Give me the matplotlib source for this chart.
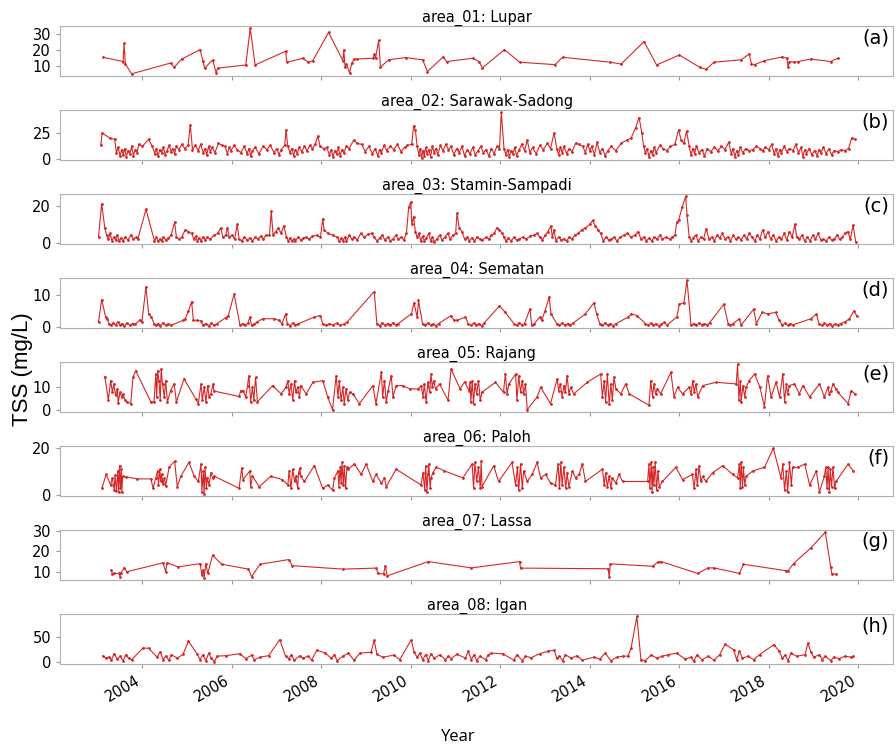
import matplotlib
matplotlib.use('Agg')
import matplotlib.pyplot as plt
from matplotlib import font_manager

# Pick a narrow font for the titles/ticks if one is installed
installed = {f.name for f in font_manager.fontManager.ttflist}
narrow = 'DejaVu Sans'
for name in ['DejaVu Sans Condensed', 'Liberation Sans Narrow']:
    if name in installed:
        narrow = name
        break
plt.rcParams['font.family'] = [narrow, 'DejaVu Sans']

# TSS (mg/L) per site, as (decimal year, value)
lupar = [(2003.12, 15.6), (2003.57, 12.9), (2003.59, 24.2), (2003.62, 11.4), (2003.76, 5.3), (2004.63, 12.0),
         (2004.71, 9.4), (2004.88, 14.5), (2005.29, 20.3), (2005.35, 13.5), (2005.39, 8.8), (2005.57, 13.9),
         (2005.65, 5.9), (2005.68, 8.8), (2006.31, 10.8), (2006.41, 33.5), (2006.52, 10.8), (2007.20, 19.3),
         (2007.23, 12.5), (2007.58, 14.9), (2007.71, 12.5), (2007.81, 13.5), (2008.16, 31.0), (2008.48, 13.5),
         (2008.50, 20.3), (2008.53, 9.4), (2008.56, 11.4), (2008.63, 5.9), (2008.68, 12.0), (2008.74, 14.5),
         (2008.80, 14.5), (2009.16, 15.0), (2009.18, 17.6), (2009.21, 15.0), (2009.28, 26.0), (2009.32, 9.4),
         (2009.50, 14.0), (2009.88, 15.4), (2010.26, 14.0), (2010.37, 6.7), (2010.72, 15.8), (2010.80, 12.9),
         (2011.39, 15.0), (2011.52, 12.9), (2011.60, 9.0), (2012.09, 20.3), (2012.43, 12.5), (2013.22, 11.0),
         (2013.39, 15.6), (2014.45, 12.5), (2014.70, 11.4), (2015.21, 25.3), (2015.49, 10.8), (2016.00, 17.0),
         (2016.45, 9.4), (2016.60, 8.1), (2016.77, 12.5), (2017.38, 14.0), (2017.56, 17.6), (2017.61, 11.4),
         (2017.68, 11.0), (2017.90, 13.5), (2018.30, 15.8), (2018.40, 15.0), (2018.43, 9.4), (2018.46, 12.9),
         (2018.55, 12.5), (2018.65, 12.9), (2018.94, 14.5), (2019.38, 12.9), (2019.54, 15.0)]

sarawak_sadong = [(2003.07, 13), (2003.10, 25), (2003.28, 20), (2003.38, 19), (2003.42, 6), (2003.46, 11),
                  (2003.50, 3), (2003.54, 9), (2003.57, 4), (2003.61, 10), (2003.64, 2), (2003.68, 8),
                  (2003.72, 5), (2003.76, 12), (2003.80, 3), (2003.84, 9), (2003.88, 6), (2003.92, 14),
                  (2004.00, 12), (2004.14, 19), (2004.22, 12), (2004.28, 5), (2004.31, 10), (2004.35, 3),
                  (2004.39, 9), (2004.43, 6), (2004.47, 11), (2004.51, 4), (2004.55, 8), (2004.60, 13),
                  (2004.64, 7), (2004.68, 10), (2004.72, 5), (2004.76, 12), (2004.82, 9), (2004.88, 14),
                  (2004.95, 10), (2005.02, 13), (2005.07, 33), (2005.12, 9), (2005.18, 13), (2005.25, 8),
                  (2005.30, 14), (2005.36, 6), (2005.40, 10), (2005.44, 4), (2005.48, 12), (2005.52, 7),
                  (2005.56, 11), (2005.62, 6), (2005.70, 15), (2005.78, 13), (2005.85, 12), (2005.90, 5),
                  (2005.94, 11), (2005.98, 8), (2006.05, 13), (2006.12, 9), (2006.20, 6), (2006.28, 12),
                  (2006.34, 5), (2006.38, 10), (2006.42, 3), (2006.46, 8), (2006.52, 11), (2006.60, 5),
                  (2006.70, 12), (2006.78, 9), (2006.86, 13), (2006.94, 6), (2007.00, 10), (2007.05, 4),
                  (2007.10, 9), (2007.18, 13), (2007.21, 28), (2007.25, 12), (2007.30, 6), (2007.34, 10),
                  (2007.38, 3), (2007.42, 9), (2007.46, 5), (2007.50, 11), (2007.56, 7), (2007.62, 12),
                  (2007.68, 8), (2007.74, 13), (2007.80, 10), (2007.86, 14), (2007.92, 22), (2007.97, 12),
                  (2008.05, 10), (2008.12, 11), (2008.18, 4), (2008.22, 9), (2008.26, 2), (2008.30, 8),
                  (2008.34, 5), (2008.38, 11), (2008.42, 3), (2008.46, 9), (2008.50, 6), (2008.56, 12),
                  (2008.62, 10), (2008.72, 18), (2008.80, 15), (2008.90, 14), (2008.98, 7), (2009.06, 12),
                  (2009.14, 5), (2009.20, 10), (2009.26, 3), (2009.30, 9), (2009.34, 6), (2009.40, 13),
                  (2009.46, 8), (2009.54, 12), (2009.62, 9), (2009.70, 14), (2009.78, 7), (2009.86, 11),
                  (2009.92, 13), (2010.02, 14), (2010.06, 32), (2010.10, 28), (2010.14, 12), (2010.18, 4),
                  (2010.21, 10), (2010.24, 1), (2010.27, 8), (2010.30, 3), (2010.33, 11), (2010.36, 5),
                  (2010.40, 9), (2010.44, 2), (2010.48, 12), (2010.52, 6), (2010.56, 10), (2010.60, 4),
                  (2010.66, 13), (2010.72, 8), (2010.78, 14), (2010.84, 9), (2010.90, 12), (2010.96, 4),
                  (2011.02, 10), (2011.08, 6), (2011.14, 12), (2011.20, 3), (2011.26, 9), (2011.32, 5),
                  (2011.38, 11), (2011.44, 4), (2011.50, 8), (2011.56, 12), (2011.62, 6), (2011.68, 9),
                  (2011.74, 3), (2011.80, 10), (2011.86, 5), (2011.92, 12), (2011.98, 10), (2012.02, 45),
                  (2012.08, 10), (2012.12, 4), (2012.16, 9), (2012.20, 2), (2012.24, 8), (2012.28, 5),
                  (2012.32, 11), (2012.36, 3), (2012.42, 9), (2012.48, 14), (2012.54, 8), (2012.60, 18),
                  (2012.66, 6), (2012.72, 11), (2012.80, 5), (2012.88, 13), (2012.96, 9), (2013.05, 15),
                  (2013.12, 10), (2013.20, 25), (2013.26, 10), (2013.30, 4), (2013.34, 11), (2013.38, 6),
                  (2013.42, 12), (2013.48, 5), (2013.54, 10), (2013.60, 7), (2013.68, 15), (2013.76, 14),
                  (2013.84, 12), (2013.90, 6), (2013.95, 14), (2014.00, 8), (2014.04, 12), (2014.10, 4),
                  (2014.16, 16), (2014.22, 6), (2014.28, 10), (2014.34, 3), (2014.40, 8), (2014.48, 12),
                  (2014.58, 8), (2014.70, 15), (2014.82, 18), (2014.92, 20), (2015.02, 30), (2015.10, 40),
                  (2015.16, 25), (2015.20, 12), (2015.24, 6), (2015.28, 10), (2015.32, 2), (2015.36, 8),
                  (2015.40, 4), (2015.44, 11), (2015.48, 6), (2015.56, 13), (2015.64, 10), (2015.72, 8),
                  (2015.80, 12), (2015.90, 14), (2015.98, 28), (2016.04, 18), (2016.10, 15), (2016.16, 27),
                  (2016.22, 12), (2016.26, 4), (2016.30, 10), (2016.34, 5), (2016.38, 12), (2016.44, 6),
                  (2016.50, 9), (2016.56, 3), (2016.62, 10), (2016.70, 7), (2016.78, 11), (2016.86, 8),
                  (2016.94, 12), (2017.02, 9), (2017.10, 16), (2017.16, 5), (2017.20, 10), (2017.24, 2),
                  (2017.28, 8), (2017.32, 4), (2017.36, 11), (2017.42, 6), (2017.48, 10), (2017.56, 8),
                  (2017.64, 9), (2017.72, 12), (2017.80, 10), (2017.86, 8), (2017.92, 11), (2018.00, 9),
                  (2018.06, 14), (2018.12, 5), (2018.16, 10), (2018.20, 3), (2018.24, 9), (2018.28, 6),
                  (2018.34, 12), (2018.40, 7), (2018.46, 10), (2018.54, 8), (2018.60, 14), (2018.66, 6),
                  (2018.72, 11), (2018.76, 2), (2018.80, 9), (2018.84, 5), (2018.90, 10), (2018.96, 4),
                  (2019.02, 8), (2019.08, 3), (2019.12, 9), (2019.16, 6), (2019.22, 11), (2019.28, 5),
                  (2019.34, 10), (2019.40, 4), (2019.46, 8), (2019.54, 7), (2019.62, 9), (2019.70, 8),
                  (2019.78, 10), (2019.85, 20), (2019.92, 19)]

stamin_sampadi = [(2003.02, 3), (2003.09, 21), (2003.16, 8), (2003.20, 4), (2003.24, 2), (2003.28, 5),
                  (2003.32, 1), (2003.36, 3), (2003.40, 1.5), (2003.44, 4), (2003.48, 1), (2003.52, 2.5),
                  (2003.56, 0.8), (2003.62, 3), (2003.68, 1.5), (2003.74, 4), (2003.80, 2), (2003.86, 3),
                  (2003.90, 2), (2004.08, 18), (2004.27, 1), (2004.31, 3), (2004.35, 0.8), (2004.39, 2),
                  (2004.43, 1), (2004.47, 3), (2004.52, 1.5), (2004.58, 2.5), (2004.64, 4), (2004.72, 11),
                  (2004.76, 3), (2004.82, 2), (2004.88, 3), (2004.96, 7), (2005.03, 6), (2005.10, 5),
                  (2005.15, 2), (2005.19, 3.5), (2005.23, 1), (2005.27, 2.5), (2005.31, 0.8), (2005.35, 3),
                  (2005.40, 1.5), (2005.45, 3), (2005.52, 2), (2005.60, 4), (2005.68, 5), (2005.75, 8),
                  (2005.80, 3), (2005.86, 4), (2005.90, 8), (2005.94, 3), (2006.00, 4), (2006.06, 2),
                  (2006.12, 10), (2006.16, 2), (2006.22, 1), (2006.28, 3), (2006.34, 1.5), (2006.40, 2.5),
                  (2006.46, 1), (2006.52, 3), (2006.58, 2), (2006.64, 3.5), (2006.70, 2), (2006.76, 4),
                  (2006.84, 4), (2006.88, 17), (2006.92, 4), (2006.98, 6), (2007.04, 8), (2007.10, 5),
                  (2007.16, 9), (2007.22, 3), (2007.26, 1), (2007.30, 2.5), (2007.34, 0.8), (2007.38, 2),
                  (2007.42, 1), (2007.48, 3), (2007.54, 1.5), (2007.60, 2.5), (2007.66, 3), (2007.72, 2),
                  (2007.80, 3.5), (2007.90, 4), (2007.98, 3), (2008.03, 13), (2008.06, 7), (2008.15, 5),
                  (2008.25, 4), (2008.35, 3), (2008.40, 1), (2008.44, 2.5), (2008.48, 0.8), (2008.52, 3),
                  (2008.56, 1), (2008.62, 4), (2008.68, 2), (2008.74, 3), (2008.80, 1.5), (2008.88, 5),
                  (2008.96, 3), (2009.04, 4.5), (2009.12, 5), (2009.18, 3), (2009.24, 1), (2009.30, 2.5),
                  (2009.36, 4), (2009.42, 1.5), (2009.48, 3), (2009.54, 1), (2009.60, 2), (2009.66, 4),
                  (2009.72, 2), (2009.78, 3), (2009.84, 1.5), (2009.90, 5), (2009.95, 19), (2010.00, 22),
                  (2010.02, 10), (2010.06, 14), (2010.10, 6), (2010.14, 3), (2010.18, 5), (2010.22, 1),
                  (2010.26, 3.5), (2010.30, 1), (2010.34, 2.5), (2010.40, 5), (2010.44, 1), (2010.48, 3),
                  (2010.52, 0.5), (2010.58, 2), (2010.64, 4), (2010.70, 1.5), (2010.76, 3), (2010.82, 5),
                  (2010.88, 2), (2010.94, 4), (2011.00, 5), (2011.03, 16), (2011.08, 8), (2011.14, 6),
                  (2011.20, 2), (2011.26, 3), (2011.30, 1), (2011.36, 2.5), (2011.42, 1), (2011.48, 3),
                  (2011.54, 2), (2011.60, 1.5), (2011.68, 3), (2011.74, 2), (2011.80, 4), (2011.86, 5),
                  (2011.92, 8), (2011.98, 7), (2012.04, 5), (2012.08, 3), (2012.12, 1), (2012.18, 2.5),
                  (2012.24, 1), (2012.30, 3), (2012.36, 1.5), (2012.42, 2), (2012.50, 3), (2012.58, 2),
                  (2012.66, 3.5), (2012.74, 4), (2012.82, 5), (2012.88, 3), (2012.94, 1.5), (2013.00, 4),
                  (2013.06, 6), (2013.13, 9), (2013.16, 3), (2013.20, 7), (2013.24, 1), (2013.30, 3),
                  (2013.36, 1.5), (2013.42, 2), (2013.48, 1), (2013.54, 3), (2013.60, 2), (2013.66, 4),
                  (2013.74, 5), (2013.82, 7), (2013.90, 8), (2014.00, 10), (2014.06, 12), (2014.12, 9),
                  (2014.18, 7), (2014.24, 5), (2014.30, 1), (2014.36, 3), (2014.42, 1.5), (2014.48, 2),
                  (2014.54, 3), (2014.60, 1), (2014.68, 3), (2014.76, 4), (2014.84, 5), (2014.92, 3),
                  (2015.00, 4), (2015.08, 6), (2015.14, 2), (2015.20, 3), (2015.26, 1), (2015.32, 2.5),
                  (2015.38, 1), (2015.44, 3), (2015.50, 2), (2015.56, 4), (2015.62, 2), (2015.70, 3),
                  (2015.78, 2), (2015.84, 3), (2015.90, 4), (2015.94, 11), (2015.98, 12), (2016.06, 19),
                  (2016.14, 25), (2016.17, 15), (2016.22, 3), (2016.26, 1), (2016.30, 2.5), (2016.36, 4),
                  (2016.42, 1), (2016.48, 3), (2016.54, 2), (2016.60, 7.5), (2016.66, 2), (2016.72, 3),
                  (2016.78, 1), (2016.84, 4), (2016.90, 2.5), (2016.96, 5), (2017.02, 2), (2017.08, 3),
                  (2017.14, 1), (2017.20, 4), (2017.26, 2), (2017.32, 3), (2017.38, 1.5), (2017.44, 4),
                  (2017.50, 2), (2017.56, 5), (2017.62, 3), (2017.68, 1), (2017.74, 4), (2017.80, 2),
                  (2017.86, 7), (2017.92, 3), (2017.98, 6), (2018.04, 2), (2018.10, 4), (2018.16, 1),
                  (2018.22, 3), (2018.28, 2), (2018.34, 5), (2018.40, 1.5), (2018.46, 6), (2018.52, 3),
                  (2018.58, 10), (2018.62, 3), (2018.68, 2), (2018.74, 4), (2018.80, 1), (2018.86, 3),
                  (2018.92, 1), (2018.98, 4), (2019.04, 2), (2019.10, 5), (2019.16, 1.5), (2019.22, 2),
                  (2019.28, 1), (2019.34, 3), (2019.40, 1.5), (2019.46, 2), (2019.52, 4), (2019.58, 2),
                  (2019.64, 3), (2019.70, 5), (2019.76, 6), (2019.82, 2), (2019.88, 9.5), (2019.94, 0.5)]

sematan = [(2003.02, 1.5), (2003.09, 8.5), (2003.18, 3), (2003.22, 2.5), (2003.25, 1), (2003.30, 0.5),
           (2003.35, 1.2), (2003.40, 0.4), (2003.45, 1.5), (2003.50, 0.6), (2003.55, 1), (2003.60, 0.3),
           (2003.66, 1.2), (2003.72, 0.5), (2003.78, 1), (2003.84, 0.8), (2003.95, 2.2), (2003.99, 1.5),
           (2004.08, 12.5), (2004.14, 4), (2004.20, 3), (2004.26, 1), (2004.30, 0.4), (2004.35, 1),
           (2004.40, 0.3), (2004.46, 1.2), (2004.52, 0.5), (2004.58, 0.9), (2004.64, 0.4), (2004.91, 2),
           (2004.96, 2.5), (2005.03, 5), (2005.10, 7.8), (2005.14, 2), (2005.22, 2), (2005.30, 1.8),
           (2005.36, 0.4), (2005.42, 1), (2005.48, 0.3), (2005.54, 1.1), (2005.60, 0.5), (2005.66, 0.9),
           (2005.86, 2.8), (2005.92, 3.5), (2006.05, 10.2), (2006.18, 0.5), (2006.24, 1), (2006.30, 0.4),
           (2006.36, 1.1), (2006.40, 3), (2006.44, 0.5), (2006.50, 0.8), (2006.56, 1.5), (2006.69, 2.5),
           (2006.95, 2.5), (2007.05, 2), (2007.12, 1), (2007.20, 4), (2007.24, 1), (2007.30, 0.3),
           (2007.36, 1.2), (2007.42, 0.5), (2007.48, 0.9), (2007.84, 3), (2007.97, 3.5), (2008.03, 1),
           (2008.10, 0.4), (2008.18, 1), (2008.26, 0.5), (2008.34, 1.1), (2008.42, 0.4), (2008.50, 0.8),
           (2008.58, 1.5), (2009.18, 11), (2009.24, 1), (2009.30, 0.3), (2009.36, 1.2), (2009.42, 0.5),
           (2009.48, 1), (2009.54, 0.4), (2009.60, 1.3), (2009.66, 0.6), (2009.72, 1), (2010.01, 4),
           (2010.07, 7.5), (2010.14, 3), (2010.17, 8.2), (2010.26, 1), (2010.32, 0.4), (2010.38, 1.2),
           (2010.44, 0.5), (2010.50, 0.9), (2010.56, 0.3), (2010.62, 1), (2010.90, 3.5), (2010.96, 2),
           (2011.03, 2), (2011.22, 3), (2011.28, 1), (2011.34, 0.4), (2011.40, 1.1), (2011.46, 0.5),
           (2011.52, 1), (2011.58, 0.3), (2011.64, 1.2), (2011.98, 6.5), (2012.11, 4.5), (2012.30, 1),
           (2012.36, 0.4), (2012.42, 1.3), (2012.48, 0.5), (2012.54, 1), (2012.66, 5.5), (2012.70, 0.5),
           (2012.76, 1), (2012.88, 3), (2012.92, 2), (2013.00, 5), (2013.09, 9.3), (2013.13, 4),
           (2013.26, 1), (2013.32, 0.4), (2013.38, 1.2), (2013.44, 0.5), (2013.50, 1), (2013.56, 0.6),
           (2013.62, 1.1), (2013.90, 4), (2014.09, 7.5), (2014.15, 4), (2014.22, 1), (2014.28, 0.4),
           (2014.34, 1.2), (2014.40, 0.5), (2014.46, 1), (2014.52, 0.3), (2014.58, 0.9), (2014.85, 3),
           (2014.92, 4), (2015.05, 3.5), (2015.24, 1), (2015.30, 0.4), (2015.36, 1.1), (2015.42, 0.5),
           (2015.48, 1), (2015.54, 0.3), (2015.60, 0.8), (2015.66, 1.4), (2015.72, 0.5), (2015.94, 3),
           (2016.00, 7), (2016.10, 7.5), (2016.17, 14.5), (2016.26, 0.5), (2016.32, 1), (2016.38, 0.4),
           (2016.44, 1.2), (2016.50, 0.6), (2016.56, 1), (2016.62, 0.5), (2016.68, 1.3), (2016.99, 7),
           (2017.09, 1), (2017.14, 0.4), (2017.20, 1), (2017.34, 2.5), (2017.38, 0.5), (2017.66, 5.5),
           (2017.72, 1), (2017.85, 4.5), (2017.98, 4), (2018.15, 4.5), (2018.23, 2), (2018.30, 0.5),
           (2018.36, 1.1), (2018.42, 0.4), (2018.48, 1), (2018.54, 0.6), (2018.94, 2.5), (2019.06, 4),
           (2019.12, 1), (2019.18, 0.4), (2019.24, 1.2), (2019.30, 0.5), (2019.36, 1), (2019.42, 0.3),
           (2019.48, 0.9), (2019.54, 0.5), (2019.60, 1), (2019.70, 1.5), (2019.80, 2.5), (2019.90, 5),
           (2019.96, 3.5)]

rajang = [(2003.16, 14.2), (2003.24, 4.2), (2003.29, 12.5), (2003.33, 7.6), (2003.36, 11.1), (2003.40, 6.3),
          (2003.44, 9.0), (2003.46, 3.1), (2003.50, 7.6), (2003.54, 5.6), (2003.57, 6.9), (2003.61, 4.2),
          (2003.66, 3.5), (2003.74, 2.8), (2003.79, 13.9), (2003.85, 16.7), (2004.19, 3.5), (2004.26, 3.5),
          (2004.30, 15.3), (2004.32, 5.6), (2004.34, 16.7), (2004.37, 12.5), (2004.40, 4.2), (2004.42, 17.4),
          (2004.45, 11.1), (2004.49, 5.6), (2004.52, 12.5), (2004.56, 3.5), (2004.63, 8.3), (2004.71, 11.1),
          (2004.76, 3.5), (2004.93, 13.2), (2005.19, 4.9), (2005.25, 2.8), (2005.31, 11.1), (2005.34, 4.2),
          (2005.38, 9.7), (2005.42, 3.5), (2005.46, 10.4), (2005.49, 5.6), (2005.53, 6.9), (2005.58, 11.1),
          (2005.60, 8.1), (2006.16, 5.8), (2006.20, 8.3), (2006.25, 8.3), (2006.31, 5.6), (2006.35, 10.4),
          (2006.38, 14.6), (2006.42, 3.5), (2006.46, 9.7), (2006.49, 4.2), (2006.53, 13.9), (2006.57, 3.5),
          (2006.91, 10.4), (2007.10, 6.9), (2007.21, 9.7), (2007.25, 12.5), (2007.28, 6.9), (2007.32, 11.1),
          (2007.36, 4.2), (2007.40, 12.5), (2007.43, 7.6), (2007.47, 9.7), (2007.51, 5.6), (2007.54, 10.4),
          (2007.66, 6.9), (2007.81, 11.8), (2008.03, 12.5), (2008.14, 5.6), (2008.25, 0.2), (2008.33, 14.6),
          (2008.37, 5.6), (2008.40, 12.5), (2008.44, 4.2), (2008.48, 9.7), (2008.51, 2.8), (2008.55, 9.0),
          (2008.59, 4.2), (2008.63, 7.6), (2008.70, 6.9), (2008.85, 2.8), (2009.15, 10.4), (2009.22, 2.8),
          (2009.34, 16.0), (2009.37, 5.6), (2009.41, 12.5), (2009.45, 3.5), (2009.49, 8.3), (2009.56, 14.6),
          (2009.60, 5.6), (2009.67, 10.4), (2009.82, 10.4), (2009.97, 9.0), (2010.16, 9.0), (2010.23, 10.4),
          (2010.27, 5.6), (2010.30, 11.1), (2010.34, 3.5), (2010.38, 11.8), (2010.42, 7.6), (2010.45, 15.3),
          (2010.48, 9.7), (2010.51, 12.5), (2010.55, 9.0), (2010.64, 11.1), (2010.83, 4.2), (2010.90, 17.4),
          (2011.10, 9.0), (2011.20, 12.0), (2011.30, 8.3), (2011.32, 11.8), (2011.34, 3.5), (2011.37, 12.5),
          (2011.40, 2.8), (2011.43, 11.1), (2011.47, 6.9), (2011.51, 12.5), (2011.55, 4.2), (2011.59, 7.6),
          (2011.89, 11.8), (2012.07, 7.6), (2012.11, 15.3), (2012.15, 6.9), (2012.19, 11.1), (2012.34, 15.3),
          (2012.37, 4.2), (2012.41, 14.6), (2012.45, 7.6), (2012.49, 12.5), (2012.52, 6.9), (2012.56, 11.1),
          (2012.60, 0.2), (2012.82, 5.6), (2012.90, 9.7), (2013.12, 2.8), (2013.27, 13.2), (2013.30, 8.3),
          (2013.34, 11.1), (2013.38, 5.6), (2013.42, 10.4), (2013.45, 7.6), (2013.49, 14.6), (2013.53, 6.9),
          (2013.57, 9.7), (2013.64, 6.9), (2013.94, 11.8), (2014.24, 15.3), (2014.28, 5.6), (2014.32, 12.5),
          (2014.35, 3.5), (2014.39, 15.3), (2014.43, 2.8), (2014.47, 11.1), (2014.50, 4.2), (2014.54, 13.9),
          (2014.58, 9.0), (2014.69, 6.9), (2014.80, 11.1), (2014.88, 6.9), (2015.32, 2.1), (2015.36, 12.5),
          (2015.40, 5.6), (2015.43, 11.1), (2015.47, 6.9), (2015.51, 9.0), (2015.58, 6.9), (2015.81, 16.0),
          (2015.88, 5.6), (2015.96, 9.7), (2016.07, 6.9), (2016.22, 9.7), (2016.26, 6.9), (2016.30, 12.5),
          (2016.33, 7.6), (2016.37, 11.1), (2016.41, 5.6), (2016.52, 10.4), (2016.82, 11.8), (2017.27, 11.1),
          (2017.30, 19.4), (2017.33, 4.2), (2017.36, 12.5), (2017.38, 3.5), (2017.42, 10.4), (2017.46, 5.6),
          (2017.49, 9.7), (2017.56, 12.5), (2017.68, 15.3), (2017.80, 9.7), (2017.90, 1.5), (2017.97, 14.6),
          (2018.05, 5.6), (2018.16, 11.8), (2018.24, 5.6), (2018.31, 15.3), (2018.35, 3.5), (2018.39, 11.1),
          (2018.42, 6.9), (2018.46, 10.4), (2018.57, 11.1), (2018.68, 6.9), (2018.76, 10.4), (2018.91, 5.6),
          (2019.13, 11.1), (2019.24, 5.6), (2019.32, 9.7), (2019.35, 6.9), (2019.39, 8.3), (2019.43, 11.1),
          (2019.50, 9.0), (2019.54, 7.6), (2019.77, 2.8), (2019.84, 8.3), (2019.92, 6.9)]

paloh = [(2003.10, 3.3), (2003.19, 8.9), (2003.29, 4.4), (2003.33, 7.4), (2003.37, 2.2), (2003.39, 8.6),
         (2003.42, 1.8), (2003.45, 10.4), (2003.47, 1.5), (2003.49, 12.6), (2003.51, 3.0), (2003.53, 11.0),
         (2003.54, 1.5), (2003.56, 8.1), (2003.63, 7.9), (2003.89, 7.0), (2004.19, 7.0), (2004.24, 3.0),
         (2004.30, 7.4), (2004.34, 10.4), (2004.36, 4.4), (2004.39, 11.0), (2004.41, 5.9), (2004.43, 8.9),
         (2004.46, 4.7), (2004.49, 7.4), (2004.52, 4.1), (2004.60, 12.0), (2004.72, 14.5), (2004.78, 3.7),
         (2004.86, 8.1), (2005.04, 14.0), (2005.16, 8.1), (2005.25, 5.9), (2005.31, 13.3), (2005.33, 1.5),
         (2005.36, 10.4), (2005.38, 0.7), (2005.40, 11.9), (2005.43, 3.0), (2005.45, 7.4), (2005.49, 4.4),
         (2005.53, 9.6), (2005.57, 7.4), (2005.61, 8.1), (2006.16, 3.0), (2006.22, 11.6), (2006.25, 6.7),
         (2006.40, 10.4), (2006.42, 3.7), (2006.46, 8.1), (2006.61, 3.7), (2006.87, 8.1), (2007.13, 6.7),
         (2007.25, 4.4), (2007.28, 10.4), (2007.32, 3.0), (2007.36, 11.0), (2007.40, 5.9), (2007.43, 8.1),
         (2007.47, 3.0), (2007.49, 9.6), (2007.52, 11.6), (2007.54, 8.1), (2007.62, 5.9), (2007.84, 12.6),
         (2008.03, 3.0), (2008.14, 4.4), (2008.25, 2.2), (2008.29, 7.4), (2008.37, 10.4), (2008.39, 3.7),
         (2008.42, 11.9), (2008.44, 5.2), (2008.46, 14.0), (2008.49, 4.4), (2008.51, 12.6), (2008.54, 3.0),
         (2008.57, 11.9), (2008.59, 11.1), (2008.74, 13.3), (2008.89, 8.9), (2009.00, 13.3), (2009.15, 5.9),
         (2009.22, 8.9), (2009.34, 5.2), (2009.41, 7.4), (2009.45, 3.7), (2009.67, 11.1), (2010.23, 4.4),
         (2010.27, 9.6), (2010.31, 2.2), (2010.33, 12.6), (2010.36, 1.5), (2010.38, 8.9), (2010.40, 13.3),
         (2010.43, 3.0), (2010.45, 7.4), (2010.49, 9.6), (2010.57, 11.9), (2010.75, 10.4), (2011.16, 7.4),
         (2011.37, 13.3), (2011.40, 3.0), (2011.43, 14.0), (2011.47, 5.9), (2011.51, 11.9), (2011.55, 3.0),
         (2011.57, 14.5), (2011.59, 3.7), (2011.85, 12.6), (2011.96, 5.9), (2012.26, 14.0), (2012.34, 4.4),
         (2012.38, 11.9), (2012.41, 2.2), (2012.45, 13.3), (2012.49, 3.0), (2012.52, 10.4), (2012.60, 5.9),
         (2012.71, 8.9), (2012.82, 14.0), (2012.90, 7.4), (2013.01, 8.9), (2013.12, 5.2), (2013.23, 4.4),
         (2013.29, 13.3), (2013.32, 3.0), (2013.35, 14.0), (2013.38, 4.4), (2013.42, 11.9), (2013.46, 3.0),
         (2013.49, 9.6), (2013.53, 3.7), (2013.61, 10.4), (2013.68, 7.4), (2013.76, 8.9), (2013.83, 13.3),
         (2013.90, 5.9), (2014.28, 11.1), (2014.32, 4.4), (2014.35, 9.6), (2014.39, 3.7), (2014.43, 8.1),
         (2014.47, 3.0), (2014.50, 7.4), (2014.58, 5.2), (2014.65, 8.9), (2014.73, 5.9), (2015.29, 5.9),
         (2015.32, 13.3), (2015.34, 3.0), (2015.37, 14.0), (2015.39, 1.5), (2015.41, 11.9), (2015.43, 4.4),
         (2015.46, 14.0), (2015.49, 2.2), (2015.52, 10.4), (2015.55, 3.7), (2015.62, 5.9), (2015.92, 11.9),
         (2016.07, 6.7), (2016.29, 8.9), (2016.33, 3.0), (2016.37, 11.1), (2016.40, 4.4), (2016.44, 12.6),
         (2016.48, 5.9), (2016.52, 8.1), (2016.59, 5.9), (2016.74, 9.6), (2016.97, 12.6), (2017.19, 8.9),
         (2017.30, 7.4), (2017.34, 13.3), (2017.36, 3.0), (2017.38, 14.0), (2017.41, 3.7), (2017.43, 11.9),
         (2017.46, 4.4), (2017.49, 8.1), (2017.64, 10.4), (2017.90, 11.9), (2018.10, 20.0), (2018.27, 7.4),
         (2018.31, 13.3), (2018.35, 2.2), (2018.39, 10.4), (2018.42, 1.5), (2018.46, 14.0), (2018.50, 4.4),
         (2018.53, 11.9), (2018.65, 11.9), (2018.80, 13.3), (2018.91, 4.4), (2019.06, 10.4), (2019.13, 1.5),
         (2019.24, 8.1), (2019.27, 11.9), (2019.30, 3.0), (2019.32, 11.9), (2019.35, 1.5), (2019.37, 11.1),
         (2019.40, 3.7), (2019.43, 11.9), (2019.47, 3.0), (2019.50, 5.9), (2019.77, 13.3), (2019.88, 10.4)]

lassa = [(2003.31, 10.8), (2003.33, 8.7), (2003.37, 9.2), (2003.48, 9.2), (2003.50, 7.6), (2003.52, 9.5),
         (2003.60, 12.1), (2003.65, 10.0), (2004.46, 14.4), (2004.52, 10.0), (2004.55, 14.4), (2004.80, 12.4),
         (2005.29, 14.0), (2005.33, 8.4), (2005.36, 11.1), (2005.38, 7.1), (2005.42, 14.0), (2005.46, 9.2),
         (2005.57, 18.1), (2005.77, 13.7), (2006.37, 11.3), (2006.44, 7.6), (2006.63, 13.7), (2007.27, 16.0),
         (2007.35, 13.0), (2008.48, 11.3), (2009.22, 11.8), (2009.27, 9.2), (2009.39, 8.9), (2009.43, 13.0),
         (2009.47, 8.0), (2010.39, 15.0), (2011.35, 11.9), (2012.43, 15.0), (2012.45, 11.8), (2014.41, 11.5),
         (2014.43, 7.6), (2014.46, 13.9), (2015.40, 12.7), (2015.52, 14.8), (2015.59, 15.0), (2016.41, 9.2),
         (2016.64, 11.9), (2016.77, 11.9), (2017.34, 9.2), (2017.43, 13.7), (2018.39, 10.5), (2018.43, 10.5),
         (2018.55, 14.0), (2018.94, 21.8), (2019.26, 29.4), (2019.38, 12.4), (2019.41, 8.9), (2019.51, 8.9)]

igan = [(2003.12, 13), (2003.18, 8), (2003.25, 10), (2003.31, 5), (2003.37, 17), (2003.44, 6), (2003.50, 12),
        (2003.57, 3), (2003.63, 15), (2003.69, 8), (2003.76, 5), (2004.01, 28), (2004.14, 28), (2004.33, 10),
        (2004.40, 21), (2004.46, 5), (2004.52, 12), (2004.59, 4), (2004.65, 15), (2004.78, 8), (2004.91, 16),
        (2005.03, 42), (2005.22, 17), (2005.29, 5), (2005.35, 15), (2005.42, 3), (2005.48, 18), (2005.54, 8),
        (2005.61, 1), (2005.67, 12), (2005.86, 13), (2006.18, 17), (2006.31, 7), (2006.44, 14), (2006.50, 5),
        (2006.63, 10), (2006.82, 13), (2007.07, 45), (2007.20, 12), (2007.27, 7), (2007.33, 15), (2007.39, 4),
        (2007.52, 13), (2007.58, 8), (2007.71, 12), (2007.78, 4), (2007.90, 24), (2008.09, 18), (2008.22, 8),
        (2008.29, 15), (2008.35, 3), (2008.48, 12), (2008.60, 18), (2008.73, 4), (2008.86, 18), (2009.11, 20),
        (2009.18, 44), (2009.24, 16), (2009.37, 10), (2009.62, 14), (2009.75, 5), (2010.01, 45), (2010.07, 20),
        (2010.14, 10), (2010.20, 18), (2010.26, 5), (2010.33, 15), (2010.39, 3), (2010.45, 17), (2010.52, 8),
        (2010.65, 15), (2010.77, 5), (2010.84, 12), (2010.90, 7), (2011.03, 16), (2011.22, 8), (2011.28, 22),
        (2011.35, 5), (2011.41, 15), (2011.47, 3), (2011.54, 12), (2011.67, 5), (2011.73, 15), (2011.79, 18),
        (2012.05, 17), (2012.30, 4), (2012.37, 15), (2012.49, 3), (2012.56, 12), (2012.69, 9), (2012.88, 17),
        (2013.07, 22), (2013.20, 24), (2013.26, 8), (2013.32, 12), (2013.39, 3), (2013.45, 15), (2013.58, 8),
        (2013.71, 13), (2013.83, 4), (2014.09, 10), (2014.22, 6), (2014.34, 18), (2014.47, 3), (2014.60, 10),
        (2014.73, 12), (2014.85, 12), (2014.92, 28), (2015.05, 92), (2015.14, 5), (2015.24, 3), (2015.37, 15),
        (2015.49, 8), (2015.62, 12), (2015.75, 15), (2015.94, 18), (2016.13, 6), (2016.26, 10), (2016.32, 2),
        (2016.39, 14), (2016.51, 5), (2016.64, 12), (2016.77, 4), (2016.90, 15), (2017.02, 36), (2017.21, 25),
        (2017.28, 5), (2017.34, 22), (2017.41, 8), (2017.53, 12), (2017.66, 5), (2017.79, 15), (2018.11, 35),
        (2018.23, 22), (2018.30, 8), (2018.36, 14), (2018.43, 3), (2018.49, 18), (2018.62, 12), (2018.81, 15),
        (2018.87, 38), (2018.94, 20), (2019.00, 10), (2019.13, 15), (2019.19, 5), (2019.26, 12), (2019.38, 3),
        (2019.45, 10), (2019.57, 7), (2019.70, 12), (2019.83, 10), (2019.89, 12)]

titles = ['area_01: Lupar', 'area_02: Sarawak-Sadong', 'area_03: Stamin-Sampadi', 'area_04: Sematan',
          'area_05: Rajang', 'area_06: Paloh', 'area_07: Lassa', 'area_08: Igan']
panel_tags = ['(a)', '(b)', '(c)', '(d)', '(e)', '(f)', '(g)', '(h)']
yticks = [[10, 20, 30], [0, 25], [0, 20], [0, 10], [0, 10], [0, 20], [10, 20, 30], [0, 50]]
year_ticks = [2004, 2006, 2008, 2010, 2012, 2014, 2016, 2018, 2020]
series = [lupar, sarawak_sadong, stamin_sampadi, sematan, rajang, paloh, lassa, igan]

fig, axes = plt.subplots(8, 1, figsize=(8.96, 7.46), dpi=100, sharex=True)
fig.subplots_adjust(left=0.067, right=0.997, top=0.965, bottom=0.110, hspace=0.68)

for ax, data, title, tag, yt in zip(axes, series, titles, panel_tags, yticks):
    xs = [p[0] for p in data]
    ys = [p[1] for p in data]
    ax.plot(xs, ys, color='#d62728', lw=0.8, marker='.', ms=2)
    ax.set_title(title, fontsize=10.5, pad=3)
    ax.set_yticks(yt)
    ax.tick_params(labelsize=10.5, length=3, color='#999999')
    for s in ax.spines.values():
        s.set_color('#b0b0b0')
    ax.text(0.995, 0.76, tag, transform=ax.transAxes, ha='right', va='center', fontsize=14)

axes[-1].set_xlim(2002.16, 2020.78)
axes[-1].set_xticks(year_ticks)
axes[-1].set_xticklabels([str(y) for y in year_ticks], rotation=30, ha='right')

fig.text(0.025, 0.505, 'TSS (mg/L)', rotation=90, ha='center', va='center', fontsize=16,
         family='Liberation Sans')
fig.text(0.511, 0.012, 'Year', ha='center', va='center', fontsize=12, family='Open Sans')

plt.savefig('out.png', dpi=100)
